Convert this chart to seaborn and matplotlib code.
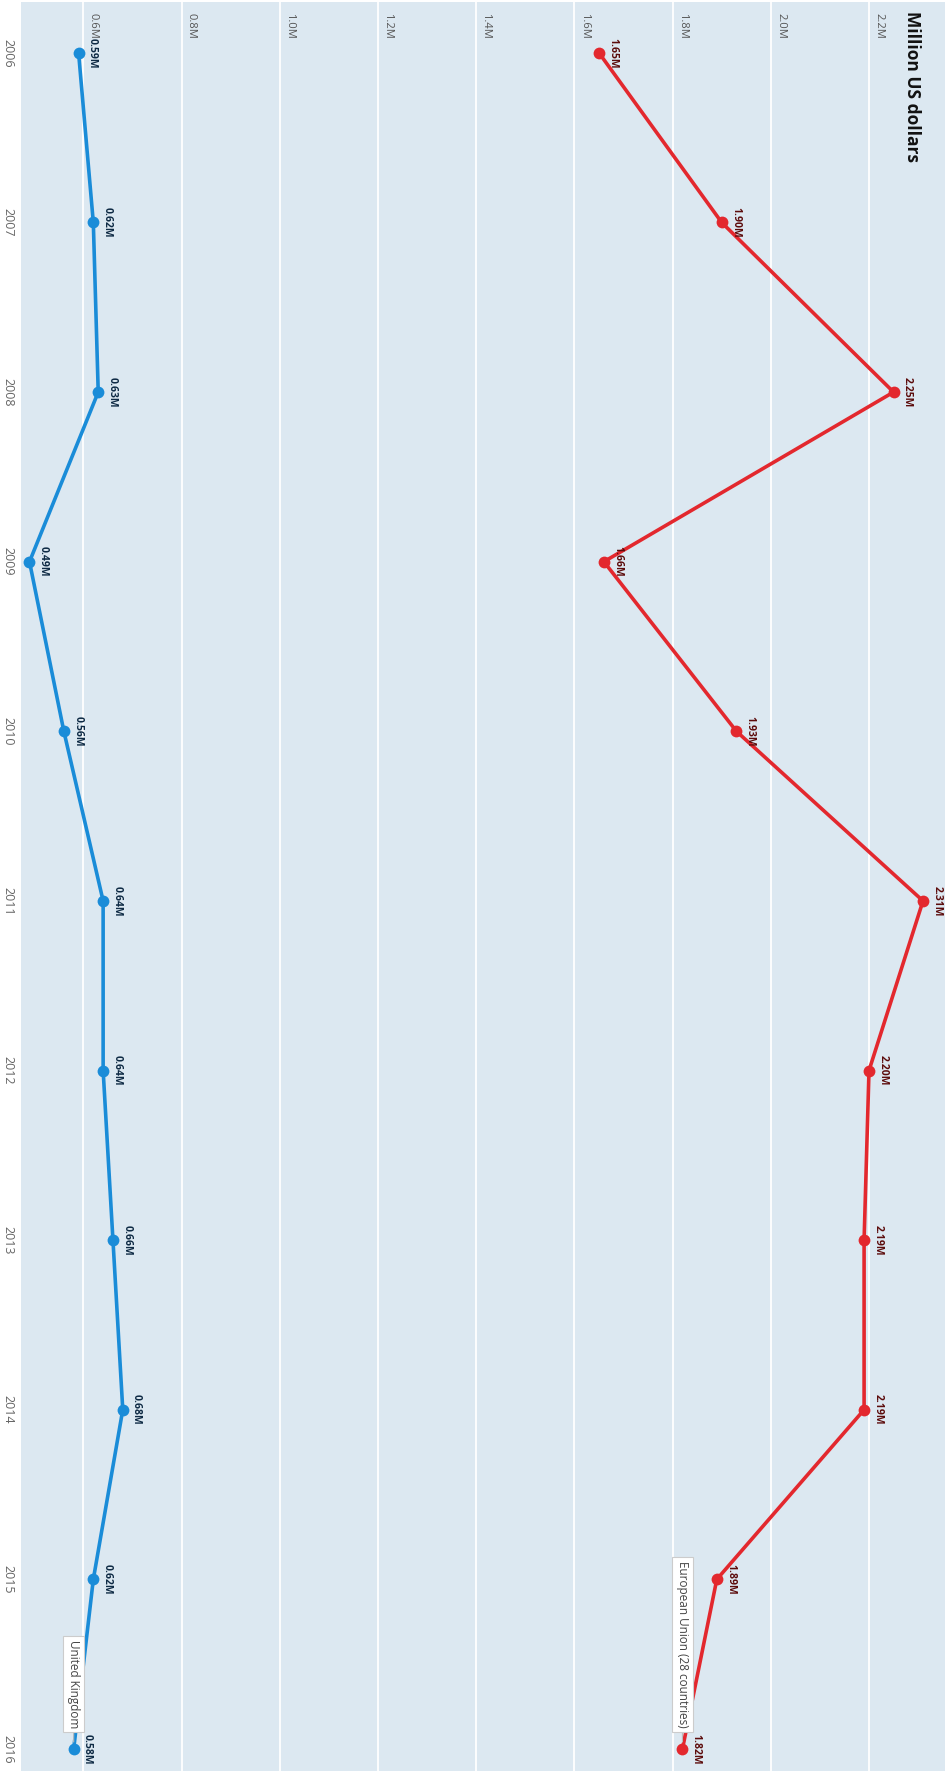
import numpy as np
import pandas as pd
import matplotlib
matplotlib.use("Agg")
import matplotlib.pyplot as plt
import seaborn as sns

# dados
anos = [2006, 2007, 2008, 2009, 2010, 2011, 2012, 2013, 2014, 2015, 2016]
ue = [1.65, 1.90, 2.25, 1.66, 1.93, 2.31, 2.20, 2.19, 2.19, 1.89, 1.82]
reino_unido = [0.59, 0.62, 0.63, 0.49, 0.56, 0.64, 0.64, 0.66, 0.68, 0.62, 0.58]
series = ["European Union (28 countries)", "United Kingdom"]
ticks_valor = [0.6, 0.8, 1.0, 1.2, 1.4, 1.6, 1.8, 2.0, 2.2]
titulo = "Million US dollars"

cores = {series[0]: "#e3282e", series[1]: "#1a8cd8"}
cores_rotulo = {series[0]: "#5c0b0b", series[1]: "#0e2a44"}

df = pd.DataFrame({
    "ano": anos * 2,
    "valor": ue + reino_unido,
    "serie": [series[0]] * len(anos) + [series[1]] * len(anos),
})

sns.set_style("whitegrid", {"axes.facecolor": "#dce8f1", "grid.color": "white"})
plt.rcParams["font.family"] = ["Open Sans", "DejaVu Sans"]

fig = plt.figure(figsize=(9.49, 17.71), dpi=100)
ax = fig.add_axes([21 / 949, 0, 924 / 949, 1769 / 1771])

sns.lineplot(
    data=df, x="valor", y="ano", hue="serie", palette=cores,
    sort=False, estimator=None, marker="o", markersize=8.5,
    markeredgewidth=0, linewidth=2.6, legend=False, ax=ax,
)

ax.set_xlim(0.4727, 2.3548)
ax.set_ylim(2016.13, 2005.70)
ax.set_xlabel("")
ax.set_ylabel("")
ax.set_xticks(ticks_valor)
ax.set_xticklabels([])
ax.tick_params(axis="x", length=0)
ax.set_yticks(anos)
ax.set_yticklabels([str(a) for a in anos])
ax.tick_params(axis="y", length=4, width=1.5, color="white", labelcolor="#666666",
               labelsize=9, labelrotation=-90, pad=1)
for lbl in ax.get_yticklabels():
    lbl.set_verticalalignment("center")
ax.grid(axis="y", visible=False)
ax.grid(axis="x", color="white", linewidth=1.3)
for s in ax.spines.values():
    s.set_visible(False)

# rotulos dos ticks dentro do grafico
for t in ticks_valor:
    ax.annotate(f"{t:.1f}M", xy=(t, 1), xycoords=("data", "axes fraction"),
                xytext=(3, -8), textcoords="offset points", rotation=-90,
                ha="left", va="top", fontsize=8, color="#555555")

# rotulos dos pontos
for serie, valores in [(series[0], ue), (series[1], reino_unido)]:
    for a, v in zip(anos, valores):
        ax.annotate(f"{v:.2f}M", xy=(v, a), xytext=(6, 0), textcoords="offset points",
                    rotation=-90, ha="left", va="center", fontsize=7.5,
                    fontweight="bold", color=cores_rotulo[serie], zorder=6)
    # caixa com nome da serie
    ax.annotate(serie, xy=(valores[-1], anos[-1]), xytext=(0, 15),
                textcoords="offset points", rotation=-90, ha="center", va="bottom",
                fontsize=8.5, color="#444444", zorder=7,
                bbox=dict(boxstyle="square,pad=0.35", fc="white", ec="#cccccc", lw=0.8),
                arrowprops=dict(arrowstyle="-", color="#bbbbbb", lw=0.8,
                                shrinkA=0, shrinkB=5))

fig.text(912 / 949, 1 - 11 / 1771, titulo, rotation=-90, ha="center", va="top",
         fontsize=12.5, fontweight="bold", color="#111111")

fig.savefig("out.png", dpi=100)
